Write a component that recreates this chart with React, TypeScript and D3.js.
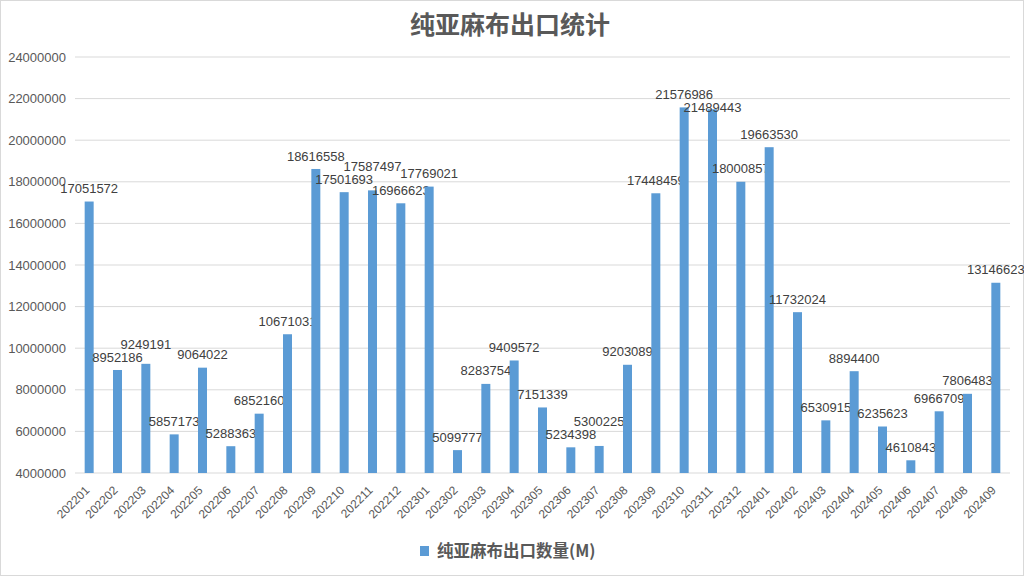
import React from "react";
import * as d3 from "d3";

const months = [
  "202201","202202","202203","202204","202205","202206","202207","202208","202209","202210","202211","202212",
  "202301","202302","202303","202304","202305","202306","202307","202308","202309","202310","202311","202312",
  "202401","202402","202403","202404","202405","202406","202407","202408","202409",
];
const exportQty = [
  17051572, 8952186, 9249191, 5857173, 9064022, 5288363, 6852160, 10671031, 18616558, 17501693, 17587497, 16966623,
  17769021, 5099777, 8283754, 9409572, 7151339, 5234398, 5300225, 9203089, 17448459, 21576986, 21489443, 18000857,
  19663530, 11732024, 6530915, 8894400, 6235623, 4610843, 6966709, 7806483, 13146623,
];
const yTicks = [4000000, 6000000, 8000000, 10000000, 12000000, 14000000, 16000000, 18000000, 20000000, 22000000, 24000000];
const title = "纯亚麻布出口统计";
const seriesName = "纯亚麻布出口数量(M)";

const W = 1024, H = 576;
const FONT = "'Liberation Sans', Arial, 'Noto Sans CJK SC', sans-serif";
const CJK = "'Noto Sans CJK SC', 'Liberation Sans', sans-serif";

export default function App() {
  const x = d3.scaleBand<string>().domain(months).range([75, 1010]).paddingInner(0.68).paddingOuter(0.34);
  const y = d3.scaleLinear().domain([4000000, 24000000]).range([473, 57]);
  const bw = 9;
  const sep = 13;
  // simple label collision avoidance (like the spreadsheet's auto-placement)
  const labelY: number[] = [];
  exportQty.forEach((v, i) => {
    let ly = y(v) - 13;
    if (i > 0) {
      const prev = labelY[i - 1];
      if (Math.abs(ly - prev) < sep) {
        ly = ly <= prev ? prev - sep : prev + sep;
      }
    }
    labelY.push(ly);
  });
  return (
    <svg width={W} height={H} style={{ position: "absolute", left: 0, top: 0, background: "#fff" }}>
      <rect x={0.5} y={0.5} width={W - 1} height={H - 1} fill="#fff" stroke="#d9d9d9" />
      <text x={510} y={34} textAnchor="middle" fontFamily={CJK} fontWeight="bold" fontSize={25} fill="#595959">{title}</text>
      {yTicks.map((t) => (
        <g key={t}>
          <line x1={75} x2={1010} y1={y(t)} y2={y(t)} stroke="#d9d9d9" strokeWidth={1} />
          <text x={66} y={y(t)} dy="0.35em" textAnchor="end" fontFamily={FONT} fontSize={13} fill="#595959">{t}</text>
        </g>
      ))}
      {months.map((m, i) => {
        const cx = (x(m) as number) + x.bandwidth() / 2;
        const v = exportQty[i];
        return (
          <g key={m}>
            <rect x={cx - bw / 2} y={y(v)} width={bw} height={y(4000000) - y(v)} fill="#5b9bd5" />
            <text x={cx} y={labelY[i]} dy="0.35em" textAnchor="middle" fontFamily={FONT} fontSize={13} fill="#404040">{v}</text>
            <text transform={`translate(${cx + 1},${491}) rotate(-45)`} textAnchor="end" fontFamily={FONT} fontSize={12} fill="#595959">{m}</text>
          </g>
        );
      })}
      <rect x={420} y={546} width={9} height={10} fill="#5b9bd5" />
      <text x={437} y={551} dy="0.35em" fontFamily={CJK} fontWeight="bold" fontSize={16.5} fill="#595959">{seriesName}</text>
    </svg>
  );
}
